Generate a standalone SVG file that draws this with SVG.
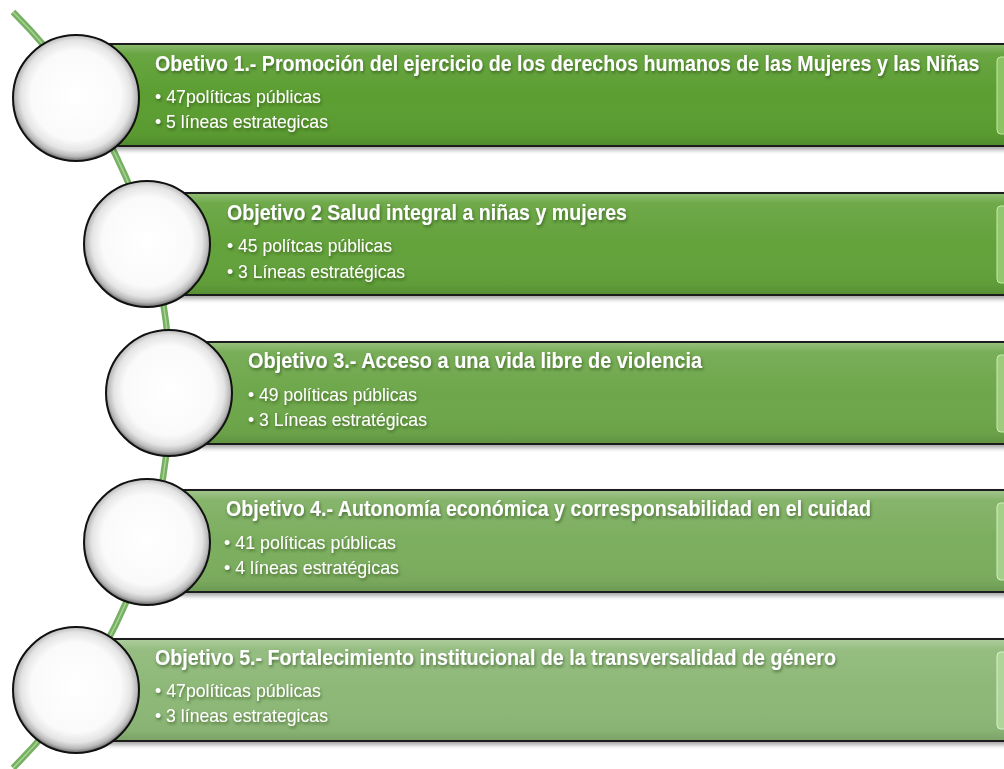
<svg xmlns="http://www.w3.org/2000/svg" width="1004" height="769" viewBox="0 0 1004 769">
<defs>
<radialGradient id="ball" cx="50%" cy="48%" r="51%">
<stop offset="0" stop-color="#ffffff"/>
<stop offset="0.7" stop-color="#fafafa"/>
<stop offset="0.86" stop-color="#e4e4e4"/>
<stop offset="0.95" stop-color="#b8b8b8"/>
<stop offset="1" stop-color="#7d7d7d"/>
</radialGradient>
<linearGradient id="gloss" x1="0" y1="0" x2="0" y2="1">
<stop offset="0" stop-color="#ffffff" stop-opacity="0.28"/>
<stop offset="0.09" stop-color="#ffffff" stop-opacity="0.08"/>
<stop offset="0.5" stop-color="#ffffff" stop-opacity="0"/>
<stop offset="0.9" stop-color="#000000" stop-opacity="0.03"/>
<stop offset="1" stop-color="#000000" stop-opacity="0.12"/>
</linearGradient>
<filter id="barShadow" x="-5%" y="-10%" width="110%" height="130%">
<feDropShadow dx="0" dy="3" stdDeviation="2" flood-color="#000" flood-opacity="0.35"/>
</filter>
<filter id="txtShadow" x="-5%" y="-30%" width="110%" height="170%">
<feDropShadow dx="1" dy="2" stdDeviation="1.5" flood-color="#1c3a10" flood-opacity="0.55"/>
</filter>
</defs>
<style>
.bar{stroke:#1a1a1a;stroke-width:2}
.gl{fill:url(#gloss)}
.bev{stroke-width:1}
.ball{fill:url(#ball);stroke:#111;stroke-width:2}
.t{font-family:"Liberation Sans",Arial,sans-serif;fill:#ffffff;filter:url(#txtShadow)}
.h{font-size:22px;font-weight:bold}
.b{font-size:19px}
.arc{fill:none;stroke:#76b062;stroke-width:6.5}
.arcHi{fill:none;stroke:#a9d394;stroke-width:1.5}
</style>
<rect width="1004" height="769" fill="#ffffff"/>
<g id="connectors">
<path class="arc" d="M 13 12 A 533 533 0 0 1 13 768"/>
<path class="arcHi" d="M 13 12 A 533 533 0 0 1 13 768"/>
</g>
<g id="objetivo1">
<g filter="url(#barShadow)"><rect class="bar" x="100" y="44" width="920" height="102" fill="#5b9e31"/></g>
<rect class="gl" x="101" y="45" width="918" height="100"/>
<rect class="bev" x="997" y="57" width="20" height="77" rx="4" fill="#8cc464" stroke="#c3e8a6"/>
<circle class="ball" cx="76" cy="98" r="63"/>
<text class="t h" x="0" y="0" transform="translate(155 71) scale(0.85 1)" textLength="970" lengthAdjust="spacingAndGlyphs">Obetivo 1.- Promoción del ejercicio de los derechos humanos de las Mujeres y las Niñas</text>
<text class="t b" x="155" y="103" textLength="166" lengthAdjust="spacingAndGlyphs">• 47políticas públicas</text>
<text class="t b" x="155" y="128" textLength="173" lengthAdjust="spacingAndGlyphs">• 5 líneas estrategicas</text>
</g>
<g id="objetivo2">
<g filter="url(#barShadow)"><rect class="bar" x="170" y="193" width="850" height="102" fill="#63a23b"/></g>
<rect class="gl" x="171" y="194" width="848" height="100"/>
<rect class="bev" x="997" y="206" width="20" height="77" rx="4" fill="#92c86d" stroke="#c6eaab"/>
<circle class="ball" cx="147" cy="244" r="63"/>
<text class="t h" x="227" y="220" textLength="400" lengthAdjust="spacingAndGlyphs">Objetivo 2 Salud integral a niñas y mujeres</text>
<text class="t b" x="227" y="252" textLength="165" lengthAdjust="spacingAndGlyphs">• 45 polítcas públicas</text>
<text class="t b" x="227" y="278" textLength="178" lengthAdjust="spacingAndGlyphs">• 3 Líneas estratégicas</text>
</g>
<g id="objetivo3">
<g filter="url(#barShadow)"><rect class="bar" x="190" y="342" width="830" height="102" fill="#6ea74b"/></g>
<rect class="gl" x="191" y="343" width="828" height="100"/>
<rect class="bev" x="997" y="355" width="20" height="77" rx="4" fill="#9ccc7c" stroke="#cbebb5"/>
<circle class="ball" cx="169" cy="393" r="63"/>
<text class="t h" x="248" y="368" textLength="454" lengthAdjust="spacingAndGlyphs">Objetivo  3.- Acceso a una vida libre de violencia</text>
<text class="t b" x="248" y="401" textLength="169" lengthAdjust="spacingAndGlyphs">• 49 políticas públicas</text>
<text class="t b" x="248" y="426" textLength="179" lengthAdjust="spacingAndGlyphs">• 3 Líneas estratégicas</text>
</g>
<g id="objetivo4">
<g filter="url(#barShadow)"><rect class="bar" x="170" y="490" width="850" height="102" fill="#7bae5f"/></g>
<rect class="gl" x="171" y="491" width="848" height="100"/>
<rect class="bev" x="997" y="503" width="20" height="77" rx="4" fill="#a5d08a" stroke="#d2edc0"/>
<circle class="ball" cx="147" cy="542" r="63"/>
<text class="t h" x="226" y="516" textLength="645" lengthAdjust="spacingAndGlyphs">Objetivo 4.- Autonomía económica y corresponsabilidad en el cuidad</text>
<text class="t b" x="224" y="549" textLength="172" lengthAdjust="spacingAndGlyphs">• 41 políticas públicas</text>
<text class="t b" x="224" y="574" textLength="175" lengthAdjust="spacingAndGlyphs">• 4 líneas estratégicas</text>
</g>
<g id="objetivo5">
<g filter="url(#barShadow)"><rect class="bar" x="100" y="639" width="920" height="102" fill="#8db877"/></g>
<rect class="gl" x="101" y="640" width="918" height="100"/>
<rect class="bev" x="997" y="652" width="20" height="77" rx="4" fill="#b0d59a" stroke="#d9f0cb"/>
<circle class="ball" cx="76" cy="690" r="63"/>
<text class="t h" x="155" y="665" textLength="681" lengthAdjust="spacingAndGlyphs">Objetivo 5.- Fortalecimiento institucional de la transversalidad de género</text>
<text class="t b" x="155" y="697" textLength="166" lengthAdjust="spacingAndGlyphs">• 47políticas públicas</text>
<text class="t b" x="155" y="722" textLength="173" lengthAdjust="spacingAndGlyphs">• 3 líneas estrategicas</text>
</g>
</svg>
